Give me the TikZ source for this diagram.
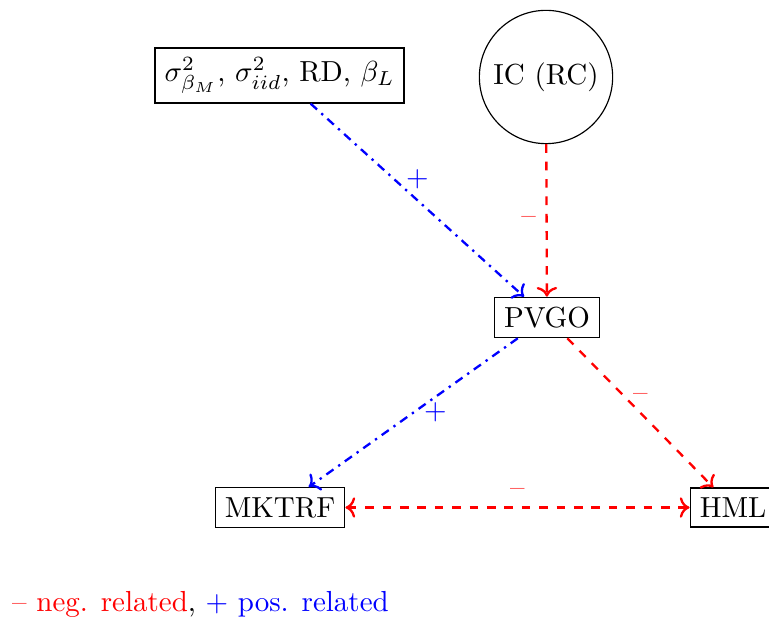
\documentclass[tikz,border=0pt]{standalone}
\usetikzlibrary{arrows.meta}
\begin{document}
\begin{tikzpicture}[x=0.3448pt,y=-0.3448pt,
  box/.style={draw,thin},
  neg/.style={draw=red,thick,dashed,->},
  posrel/.style={draw=blue,thick,dashdotted,->},
  lab/.style={font=\normalsize}]
\useasboundingbox (0,0) rectangle (769,624);
\node[box] (par) at (279.5,75.5) {$\sigma^2_{\beta_M}$, $\sigma^2_{iid}$, RD, $\beta_L$};
\node[box,circle] (ic) at (546,77) {IC (RC)};
\node[box] (pvgo) at (547,317.5) {PVGO};
\node[box] (mk) at (280,507.5) {MKTRF};
\node[box] (hml) at (733,507.5) {HML};
\draw[posrel] (par) -- node[lab,above,blue]{$+$} (pvgo);
\draw[neg] (ic) -- node[lab,left,red]{--} (pvgo);
\draw[posrel] (pvgo) -- node[lab,right,blue]{$+$} (mk);
\draw[neg] (pvgo) -- node[lab,above,red]{--} (hml);
\draw[neg,<->] (mk) -- node[lab,above,red]{--} (hml);
\node[anchor=base west] (leg) at (2,611) {\textcolor{red}{-- neg. related}, \textcolor{blue}{$+$ pos. related}};
\end{tikzpicture}
\end{document}
